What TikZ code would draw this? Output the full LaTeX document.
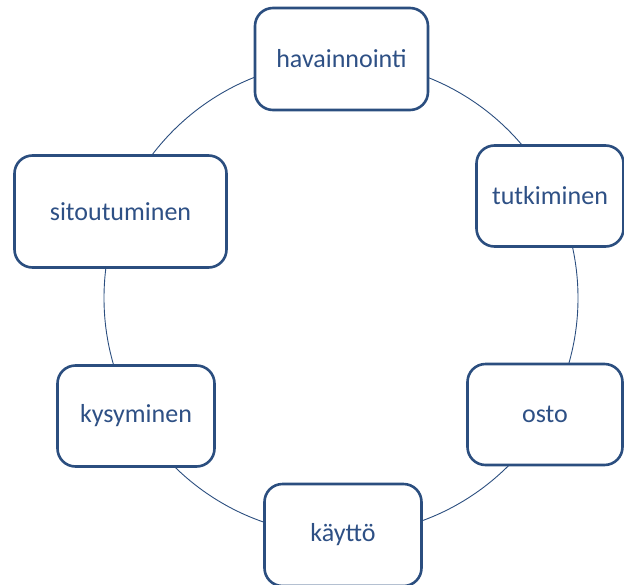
\documentclass[tikz,border=0pt]{standalone}
\usepackage{fontspec}
\setmainfont{Carlito}
\definecolor{edgeblue}{HTML}{2B4E7F}
\definecolor{txtblue}{HTML}{2E5085}
\begin{document}
\begin{tikzpicture}[x=1pt,y=-1pt,
  box/.style={draw=edgeblue, line width=2.6pt, rounded corners=18pt, fill=white,
    text=txtblue, font=\fontsize{26}{30}\selectfont, inner sep=0pt, align=center},
  ring/.style={draw=edgeblue, line width=0.9pt}]
\useasboundingbox (0,0) rectangle (624,584);
\coordinate (c) at (341,298);
\draw[ring] (c) circle (237pt);
\node[box, minimum width=173pt, minimum height=102pt] (hav) at (341.5,59) {havainnointi};
\node[box, minimum width=147pt, minimum height=101pt] (tut) at (550,196) {tutkiminen};
\node[box, minimum width=155pt, minimum height=101pt] (ost) at (545,414.5) {osto};
\node[box, minimum width=157pt, minimum height=102pt] (kay) at (343,535) {käyttö};
\node[box, minimum width=157pt, minimum height=101pt] (kys) at (136,416) {kysyminen};
\node[box, minimum width=212pt, minimum height=112pt] (sit) at (120.5,211.5) {sitoutuminen};
\end{tikzpicture}
\end{document}
